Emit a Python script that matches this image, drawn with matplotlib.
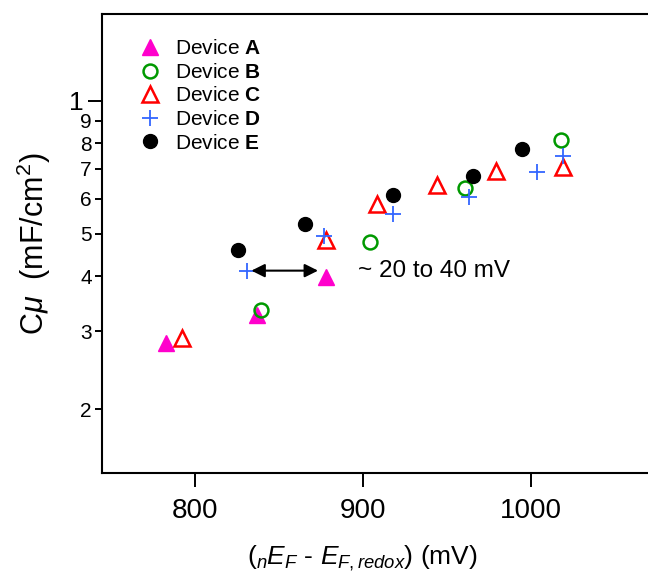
import numpy as np
import matplotlib
matplotlib.use("Agg")
import matplotlib.pyplot as plt
from matplotlib.ticker import FixedLocator, NullLocator

plt.rcParams['font.family'] = ['Liberation Sans', 'DejaVu Sans']
plt.rcParams['mathtext.fontset'] = 'custom'
plt.rcParams['mathtext.rm'] = 'Liberation Sans'
plt.rcParams['mathtext.it'] = 'Liberation Sans:italic'
plt.rcParams['mathtext.bf'] = 'Liberation Sans:bold'

# energy offset (mV) vs chemical capacitance (mF/cm^2)
dev_a_x = [782.7, 836.9, 878.0]
dev_a_y = [2.83, 3.27, 3.99]

dev_b_x = [839.3, 904.2, 960.7, 1017.9]
dev_b_y = [3.36, 4.79, 6.34, 8.15]

dev_c_x = [792.3, 878.0, 908.3, 944.0, 979.2, 1019.0]
dev_c_y = [2.90, 4.84, 5.83, 6.44, 6.93, 7.08]

dev_d_x = [831.0, 876.8, 917.9, 963.1, 1003.6, 1019.0]
dev_d_y = [4.12, 4.94, 5.54, 6.05, 6.90, 7.49]

dev_e_x = [825.6, 865.5, 917.9, 965.5, 994.6]
dev_e_y = [4.59, 5.26, 6.11, 6.75, 7.77]

x_ticks = [800, 900, 1000]
y_minor = [2, 3, 4, 5, 6, 7, 8, 9]
y_major = [10]

fig = plt.figure(figsize=(6.48, 5.73), dpi=100)
ax = fig.add_axes([101.7 / 648, 1 - 472.7 / 573, (660 - 101.7) / 648, (472.7 - 14) / 573])

ax.plot(dev_a_x, dev_a_y, ls='none', marker='^', ms=12, mfc='#ff00cc', mec='#ff00cc',
        label=r'Device $\mathbf{A}$')
ax.plot(dev_b_x, dev_b_y, ls='none', marker='o', ms=10, mfc='none', mec='#009900', mew=1.8,
        label=r'Device $\mathbf{B}$')
ax.plot(dev_c_x, dev_c_y, ls='none', marker='^', ms=12, mfc='none', mec='#ff0000', mew=1.8,
        label=r'Device $\mathbf{C}$')
ax.plot(dev_d_x, dev_d_y, ls='none', marker='+', ms=11, mec='#3366ff', mew=1.3,
        label=r'Device $\mathbf{D}$')
ax.plot(dev_e_x, dev_e_y, ls='none', marker='o', ms=10, mfc='black', mec='black',
        label=r'Device $\mathbf{E}$')

ax.set_yscale('log')
ax.set_xlim(744.5, 1077)
ax.set_ylim(1.437, 15.7)

ax.yaxis.set_major_locator(FixedLocator(y_major))
ax.yaxis.set_minor_locator(FixedLocator(y_minor))
ax.set_yticklabels(['1'], fontsize=19)
ax.set_yticklabels([str(v) for v in y_minor], minor=True, fontsize=15)
ax.tick_params(axis='y', which='major', length=10, width=1.4, pad=3)
ax.tick_params(axis='y', which='minor', length=5, width=1.4, pad=2)

ax.set_xticks(x_ticks)
ax.xaxis.set_minor_locator(NullLocator())
ax.set_xticklabels([str(v) for v in x_ticks], fontsize=20)
ax.tick_params(axis='x', length=10, width=1.4, pad=8)

for side in ['left', 'bottom', 'top']:
    ax.spines[side].set_linewidth(1.5)
ax.spines['right'].set_visible(False)

ax.set_xlabel(r'($_nE_F$ - $E_{F,redox}$) (mV)', fontsize=19)
ax.xaxis.set_label_coords(0.466, -0.155)
ax.set_ylabel(r'C$\mu$  (mF/cm$^2$)', fontsize=22)
ax.yaxis.set_label_coords(-0.088, 0.5)

# spread of the curves along the energy axis
ax.annotate('', xy=(832, 4.12), xytext=(875, 4.12),
            arrowprops=dict(arrowstyle='<|-|>', color='black', lw=1.5, mutation_scale=20))
ax.text(897, 4.12, '~ 20 to 40 mV', fontsize=17.5, va='center', ha='left')

ax.legend(loc='upper left', bbox_to_anchor=(0.05, 0.963), frameon=False, fontsize=15,
          handletextpad=0.6, labelspacing=0.22, borderaxespad=0, handlelength=1.2)

fig.savefig('out.png', dpi=100)
